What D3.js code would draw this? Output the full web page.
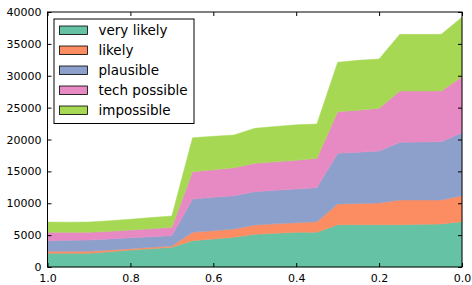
<!DOCTYPE html>
<meta charset="utf-8">
<style>
  body { margin: 0; background: white; }
  text { font-family: "DejaVu Sans", sans-serif; }
</style>

<script src="https://cdn.jsdelivr.net/npm/d3@7"></script>

<body>
</body>

<script>

// x runs from 1.0 down to 0.0 in steps of 0.05
var xs = [1.0, 0.95, 0.9, 0.85, 0.8, 0.75, 0.7, 0.65, 0.6, 0.55, 0.5,
          0.45, 0.4, 0.35, 0.3, 0.25, 0.2, 0.15, 0.1, 0.05, 0.0];

var veryLikely = [2150, 2150, 2150, 2400, 2650, 2870, 3090, 4130, 4400, 4650, 5130,
                  5280, 5440, 5440, 6640, 6640, 6640, 6640, 6700, 6750, 7110];
var likely     = [310, 310, 310, 270, 230, 220, 210, 1310, 1300, 1310, 1460,
                  1490, 1510, 1670, 3240, 3320, 3400, 3870, 3810, 3760, 4070];
var plausible  = [1670, 1720, 1770, 1730, 1700, 1660, 1620, 5230, 5230, 5230, 5220,
                  5260, 5290, 5330, 7950, 8040, 8160, 9050, 9090, 9150, 9890];
var techPossible = [1320, 1270, 1220, 1200, 1220, 1250, 1310, 4280, 4320, 4390, 4450,
                    4470, 4490, 4610, 6530, 6600, 6690, 8040, 8000, 7940, 8780];
var impossible = [1600, 1580, 1600, 1650, 1700, 1750, 1770, 5330, 5250, 5120, 5490,
                  5550, 5570, 5380, 7740, 7820, 7740, 8900, 8900, 8900, 9320];

var seriesNames = ["very likely", "likely", "plausible", "tech possible", "impossible"];
var seriesValues = [veryLikely, likely, plausible, techPossible, impossible];
var colors = ["#66c2a5", "#fc8d62", "#8da0cb", "#e78ac3", "#a6d854"];

var xTicks = [1.0, 0.8, 0.6, 0.4, 0.2, 0.0];
var yTicks = [0, 5000, 10000, 15000, 20000, 25000, 30000, 35000, 40000];

const width = 472;
const height = 285;

// plot box (note: "top" is taken by window.top)
var padL = 47.5, padR = 462, padT = 12, padB = 267;

var xScale = d3.scaleLinear().domain([1, 0]).range([padL, padR]);
var yScale = d3.scaleLinear().domain([0, 40000]).range([padB, padT]);

// rows for d3.stack
var rows = xs.map((x, i) => {
  var r = { x: x };
  seriesNames.forEach((n, j) => r[n] = seriesValues[j][i]);
  return r;
});

var stacked = d3.stack().keys(seriesNames)(rows);

var svg = d3.select("body").append("svg")
  .attr("width", width)
  .attr("height", height);

var area = d3.area()
  .x(d => xScale(d.data.x))
  .y0(d => yScale(d[0]))
  .y1(d => yScale(d[1]));

svg.append("g").selectAll("path")
  .data(stacked)
  .enter()
  .append("path")
    .attr("d", area)
    .attr("fill", (d, i) => colors[i])
    .attr("stroke", (d, i) => colors[i])
    .attr("stroke-width", 0.5);

/*========================*/
// axes frame, ticks inward on all four sides

var tickLen = 4;

svg.append("rect")
  .attr("x", padL)
  .attr("y", padT)
  .attr("width", padR - padL)
  .attr("height", padB - padT)
  .attr("fill", "none")
  .attr("stroke", "black")
  .attr("stroke-width", 1);

var xAxisB = d3.axisBottom(xScale).tickValues(xTicks).tickFormat(d3.format(".1f"))
  .tickSizeInner(-tickLen).tickSizeOuter(0).tickPadding(7);
var xAxisT = d3.axisTop(xScale).tickValues(xTicks).tickFormat("")
  .tickSizeInner(-tickLen).tickSizeOuter(0);
var yAxisL = d3.axisLeft(yScale).tickValues(yTicks).tickFormat(d3.format("d"))
  .tickSizeInner(-tickLen).tickSizeOuter(0).tickPadding(6);
var yAxisR = d3.axisRight(yScale).tickValues(yTicks).tickFormat("")
  .tickSizeInner(-tickLen).tickSizeOuter(0);

svg.append("g").attr("transform", `translate(0,${padB})`).call(xAxisB);
svg.append("g").attr("transform", `translate(0,${padT})`).call(xAxisT);
svg.append("g").attr("transform", `translate(${padL},0)`).call(yAxisL);
svg.append("g").attr("transform", `translate(${padR},0)`).call(yAxisR);

svg.selectAll(".domain").remove();
svg.selectAll(".tick line").attr("stroke", "black");
svg.selectAll(".tick text")
  .attr("fill", "black")
  .style("font-family", "DejaVu Sans")
  .style("font-size", "11px");

/*========================*/
// legend

var legend = svg.append("g").attr("transform", "translate(54,19)");

legend.append("rect")
  .attr("x", 0)
  .attr("y", 0)
  .attr("width", 140)
  .attr("height", 104.5)
  .attr("fill", "white")
  .attr("stroke", "black")
  .attr("stroke-width", 1);

var items = legend.selectAll(".item")
  .data(seriesNames)
  .enter()
  .append("g")
  .attr("transform", (d, i) => `translate(5.5,${7 + i * 20})`);

items.append("rect")
  .attr("x", 0)
  .attr("y", 0)
  .attr("width", 28)
  .attr("height", 8.5)
  .attr("fill", (d, i) => colors[i])
  .attr("stroke", "black")
  .attr("stroke-width", 0.8);

items.append("text")
  .attr("x", 39)
  .attr("y", 9)
  .style("font-size", "13.5px")
  .attr("fill", "black")
  .text(d => d);

</script>
